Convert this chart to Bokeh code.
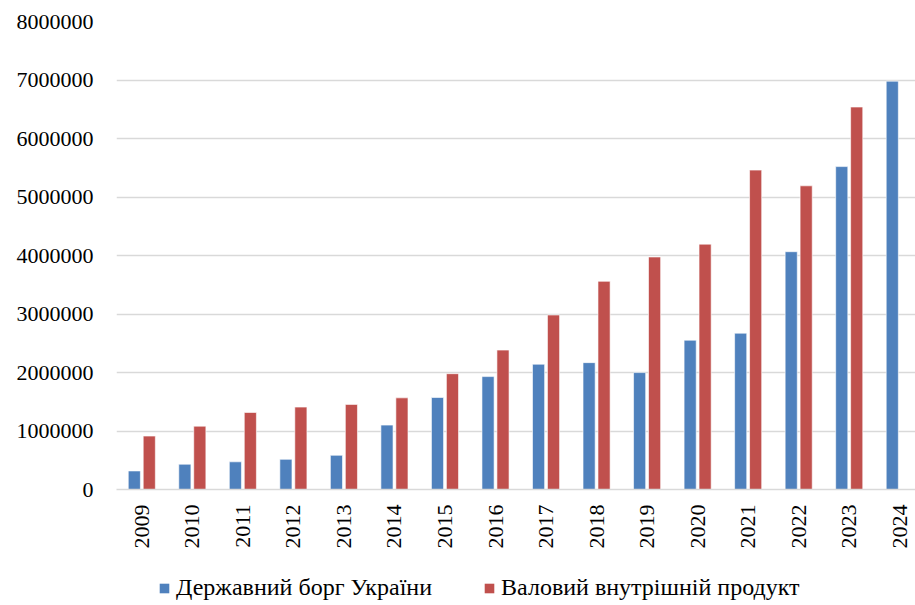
from bokeh.plotting import figure
from bokeh.layouts import column
from bokeh.models import (ColumnDataSource, Range1d, FixedTicker, NumeralTickFormatter,
                          Legend, LegendItem)
from bokeh.transform import dodge
from bokeh.embed import file_html
from bokeh.resources import INLINE
import math

years = ["2009", "2010", "2011", "2012", "2013", "2014", "2015", "2016",
         "2017", "2018", "2019", "2020", "2021", "2022", "2023", "2024"]
debt = [316900, 432200, 473100, 515500, 584800, 1100600, 1572200, 1929800,
        2141700, 2168600, 1998300, 2551900, 2671900, 4064800, 5519500, 6980000]
gdp = [913300, 1082600, 1316600, 1408900, 1454900, 1566700, 1979500, 2383200,
       2982900, 3558700, 3974600, 4194100, 5459600, 5191000, 6537800]
y_ticks = [0, 1000000, 2000000, 3000000, 4000000, 5000000, 6000000, 7000000, 8000000]
series_names = ["Державний борг України", "Валовий внутрішній продукт"]

BLUE = "#4F81BD"
RED = "#C0504D"
FONT = "Liberation Serif"

xs = [int(y) for y in years]
src_debt = ColumnDataSource(dict(x=xs, top=debt))
src_gdp = ColumnDataSource(dict(x=xs[:len(gdp)], top=gdp))

W = 915
H_MAIN = 575
H_LEG = 30
left, top_b = 116, 21
frame_w = W - left
step = 50.53
x0 = 2009 - 25.3 / step

p = figure(width=W, height=H_MAIN, output_backend="svg", toolbar_location=None,
           x_range=Range1d(x0, x0 + frame_w / step),
           y_range=Range1d(0, 8000000),
           min_border_left=left, min_border_right=0, min_border_top=top_b,
           min_border_bottom=86)
p.outline_line_color = None
p.background_fill_color = "white"
p.border_fill_color = "white"

p.vbar(x=dodge("x", -0.148), top="top", width=0.24, source=src_debt,
       fill_color=BLUE, line_color="white", line_alpha=0.6, line_width=1)
p.vbar(x=dodge("x", 0.148), top="top", width=0.24, source=src_gdp,
       fill_color=RED, line_color="white", line_alpha=0.6, line_width=1)

p.xgrid.visible = False
p.ygrid.grid_line_color = "#D9D9D9"
p.ygrid.grid_line_width = 1.5

yax = p.yaxis[0]
yax.ticker = FixedTicker(ticks=y_ticks)
yax.formatter = NumeralTickFormatter(format="0")
yax.axis_line_color = None
yax.major_tick_line_color = None
yax.minor_tick_line_color = None
yax.major_tick_out = 0
yax.major_label_standoff = 23
yax.major_label_text_font = FONT
yax.major_label_text_font_size = "22px"
yax.major_label_text_color = "black"

xax = p.xaxis[0]
xax.ticker = FixedTicker(ticks=xs)
xax.major_label_overrides = {int(y): y for y in years}
xax.major_label_orientation = math.pi / 2
xax.axis_line_color = "#D9D9D9"
xax.axis_line_width = 1.5
xax.major_tick_line_color = None
xax.minor_tick_line_color = None
xax.major_tick_out = 0
xax.major_label_standoff = 15
xax.major_label_text_font = FONT
xax.major_label_text_font_size = "22px"
xax.major_label_text_color = "black"

# legend strip below the chart (swatch renderers sit outside the visible range)
lp = figure(width=W, height=H_LEG, output_backend="svg", toolbar_location=None,
            x_range=Range1d(0, 1), y_range=Range1d(0, 1),
            min_border_left=0, min_border_right=0, min_border_top=0, min_border_bottom=0)
lp.outline_line_color = None
lp.axis.visible = False
lp.grid.visible = False
sw1 = lp.vbar(x=[-5], top=[-5], width=0.1, fill_color=BLUE, line_color=None)
sw2 = lp.vbar(x=[-5], top=[-5], width=0.1, fill_color=RED, line_color=None)
legend = Legend(items=[LegendItem(label=series_names[0], renderers=[sw1]),
                       LegendItem(label=series_names[1], renderers=[sw2])],
                orientation="horizontal", location=(42, 4),
                glyph_width=12, glyph_height=12, label_standoff=6, spacing=51,
                padding=0, margin=0, border_line_alpha=0, background_fill_alpha=0,
                label_text_font=FONT, label_text_font_size="24px",
                label_text_color="black", label_height=20)
lp.add_layout(legend, "center")

layout = column(p, lp, spacing=0)
open("out.html", "w").write(file_html(layout, INLINE))
